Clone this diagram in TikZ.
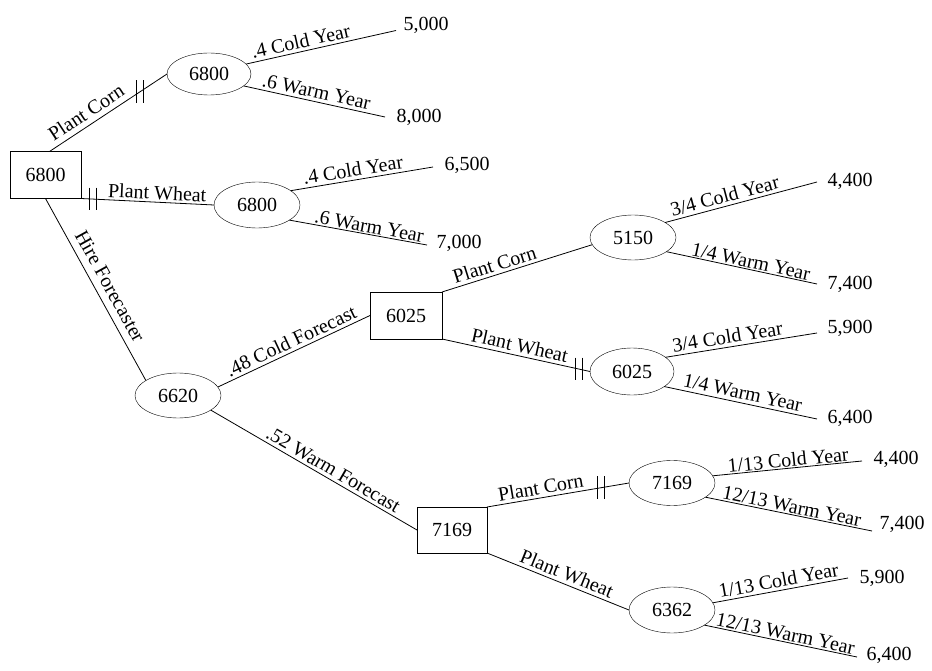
\documentclass[tikz,border=0pt]{standalone}
\usepackage{fontspec}
\setmainfont{Liberation Serif}
\usetikzlibrary{shapes.geometric}
% two short vertical strokes marking a pruned (rejected) branch
\newcommand\prunebars[1]{\draw[branch] (#1.north west) -- (#1.south west) (#1.north east) -- (#1.south east);}
\begin{document}
\begin{tikzpicture}[x=1pt,y=-1pt,
  every node/.style={font=\fontsize{20}{24}\selectfont},
  decision/.style={draw, rectangle, minimum width=71pt, minimum height=47pt, inner sep=0pt, outer sep=0pt},
  chance/.style={draw, ellipse, minimum width=86pt, minimum height=45pt, inner sep=0pt, outer sep=0pt},
  branch/.style={line width=0.8pt},
  lab/.style={sloped, above, inner sep=3pt},
  payoff/.style={inner sep=0pt},
  prunemark/.style={inner sep=0pt, minimum width=6pt, minimum height=22pt}
]
\useasboundingbox (0,0) rectangle (932,671);

% decision and chance nodes
\node[decision] (root) at (45.5,175) {6800};
\node[chance, minimum width=84pt, minimum height=42pt] (c1) at (209,74) {6800};
\node[chance, minimum height=46pt] (c2) at (257,205) {6800};
\node[chance] (c3) at (178,395.5) {6620};
\node[decision, minimum width=72pt] (d2) at (406,315.5) {6025};
\node[chance] (c4) at (633,237.5) {5150};
\node[chance, minimum width=84pt, minimum height=47pt] (c5) at (632,371.5) {6025};
\node[decision, minimum width=70pt, minimum height=46pt] (d3) at (452,530) {7169};
\node[chance] (c6) at (672,483) {7169};
\node[chance, minimum height=46pt] (c7) at (672,610) {6362};

% payoffs at the tips of the tree
\coordinate (e1) at (396,30.5);  \node[payoff] (v1) at (426,25) {5,000};
\coordinate (e2) at (385,117);   \node[payoff] (v2) at (419,117.5) {8,000};
\coordinate (e3) at (433,167);   \node[payoff] (v3) at (467,165) {6,500};
\coordinate (e4) at (427,245);   \node[payoff] (v4) at (459,243.5) {7,000};
\coordinate (e5) at (817,182);   \node[payoff] (v5) at (850,181) {4,400};
\coordinate (e6) at (817,284);   \node[payoff] (v6) at (850,284) {7,400};
\coordinate (e7) at (817,333);   \node[payoff] (v7) at (850,328) {5,900};
\coordinate (e8) at (817,419);   \node[payoff] (v8) at (850,418) {6,400};
\coordinate (e9) at (862,461);   \node[payoff] (v9) at (896,459) {4,400};
\coordinate (e10) at (872,531);  \node[payoff] (v10) at (902,524) {7,400};
\coordinate (e11) at (848,578);  \node[payoff] (v11) at (882,578) {5,900};
\coordinate (e12) at (857,657);  \node[payoff] (v12) at (889,655) {6,400};

% first decision
\draw[branch] ([xshift=4pt]root.north) -- node[lab, pos=0.37, inner sep=5pt] {Plant Corn}
  node[prunemark, pos=0.77] (p1) {} (c1.west);
\draw[branch] (root.south east) -- node[lab, pos=0.57, inner sep=2pt] {Plant Wheat}
  node[prunemark, pos=0.09] (p2) {} (c2.west);
\draw[branch] (root.south) -- node[lab, pos=0.52, inner sep=7pt] {Hire Forecaster} (c3.155);

% forecast outcomes
\draw[branch] (c3.12) -- node[lab, pos=0.51] {.48 Cold Forecast} (d2.west);
\draw[branch] (c3.-24) -- node[lab, pos=0.57] {.52 Warm Forecast} (d3.west);

% decisions after the forecast
\draw[branch] (d2.north east) -- node[lab, pos=0.37] {Plant Corn} (c4.190);
\draw[branch] (d2.south east) -- node[lab, pos=0.51] {Plant Wheat}
  node[prunemark, pos=0.926] (p3) {} (c5.west);
\draw[branch] (d3.north east) -- node[lab, pos=0.39] {Plant Corn}
  node[prunemark, pos=0.80] (p4) {} (c6.west);
\draw[branch] (d3.south east) -- node[lab, pos=0.535] {Plant Wheat} (c7.west);

\prunebars{p1}
\prunebars{p2}
\prunebars{p3}
\prunebars{p4}

% weather outcomes
\draw[branch] (c1.15) -- node[lab, pos=0.38] {.4 Cold Year} (e1);
\draw[branch] (c1.-19) -- node[lab, pos=0.5] {.6 Warm Year} (e2);
\draw[branch] (c2.23) -- node[lab, pos=0.45] {.4 Cold Year} (e3);
\draw[branch] (c2.-25) -- node[lab, pos=0.57, inner sep=1pt] {.6 Warm Year} (e4);
\draw[branch] (c4.25) -- node[lab, pos=0.41] {3/4 Cold Year} (e5);
\draw[branch] (c4.-23) -- node[lab, pos=0.55, inner sep=1pt] {1/4 Warm Year} (e6);
\draw[branch] (c5.23) -- node[lab, pos=0.42] {3/4 Cold Year} (e7);
\draw[branch] (c5.-25) -- node[lab, pos=0.5] {1/4 Warm Year} (e8);
\draw[branch] (c6.10) -- node[lab, pos=0.51, inner sep=1pt] {1/13 Cold Year} (e9);
\draw[branch] (c6.-23) -- node[lab, pos=0.51, inner sep=1pt] {12/13 Warm Year} (e10);
\draw[branch] (c7.10) -- node[lab, pos=0.5] {1/13 Cold Year} (e11);
\draw[branch] (c7.-25) -- node[lab, pos=0.52, inner sep=1pt] {12/13 Warm Year} (e12);
\end{tikzpicture}
\end{document}
